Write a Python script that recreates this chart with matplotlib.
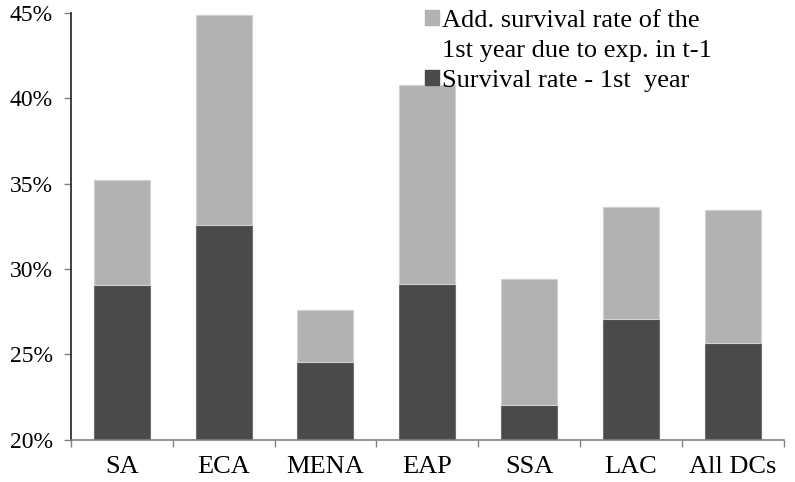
import matplotlib
matplotlib.use("Agg")
import matplotlib.pyplot as plt
from matplotlib.patches import Patch
import numpy as np

# ── Data ───────────────────────────────────────────────────────────────────────
regions   = ["SA", "ECA", "MENA", "EAP", "SSA", "LAC", "All DCs"]
base_rate = [29.06, 32.56, 24.57, 29.14, 22.0, 27.05, 25.64]   # survival rate - 1st year (%)
total     = [35.22, 44.9, 27.6, 40.78, 29.4, 33.63, 33.44]     # incl. add. rate from exp. in t-1
added     = [t - b for t, b in zip(total, base_rate)]

y_ticks   = [20, 25, 30, 35, 40, 45]

DARK  = "#4a4a4a"
LIGHT = "#b2b2b2"

plt.rcParams["font.family"] = ["Liberation Serif", "DejaVu Serif"]

fig = plt.figure(figsize=(7.95, 4.82), dpi=100)
ax = fig.add_axes([0.089, 0.088, 0.897, 0.885])

x = np.arange(len(regions))
ax.bar(x, base_rate, width=0.55, bottom=0, color=DARK, edgecolor="#6e6e6e",
       linewidth=0.8)
ax.bar(x, added, width=0.55, bottom=base_rate, color=LIGHT, edgecolor="#d0d0d0",
       linewidth=0.8)

ax.set_xlim(-0.5, len(regions) - 0.5)
ax.set_ylim(20, 45)
ax.set_yticks(y_ticks)
ax.set_yticklabels([f"{v}%" for v in y_ticks], fontsize=17)

ax.set_xticks(x)
ax.set_xticklabels(regions, fontsize=19)
ax.set_xticks(np.arange(-0.5, len(regions)), minor=True)
ax.tick_params(axis="x", which="major", length=0, pad=12)
ax.tick_params(axis="x", which="minor", length=5, color="#808080", width=1)
ax.tick_params(axis="y", length=5, color="#808080", width=1, pad=8)

ax.spines[["top", "right"]].set_visible(False)
ax.spines["left"].set_color("#202020")
ax.spines["left"].set_linewidth(1.2)
ax.spines["bottom"].set_color("#808080")
ax.spines["bottom"].set_linewidth(1.2)

# legend: the two-line label is split so the swatch sits on its first line
handles = [Patch(color=LIGHT), Patch(color="none"), Patch(color=DARK)]
labels  = ["Add. survival rate of the", "1st year due to exp. in t-1",
           "Survival rate - 1st  year"]
ax.legend(handles, labels, loc="upper left",
          bbox_to_anchor=(0.535, 0.979), bbox_transform=fig.transFigure,
          frameon=False, fontsize=19, handlelength=0.5, handleheight=0.5,
          handletextpad=0.12, labelspacing=0.3, borderpad=0, borderaxespad=0)

fig.savefig("out.png", dpi=100)
